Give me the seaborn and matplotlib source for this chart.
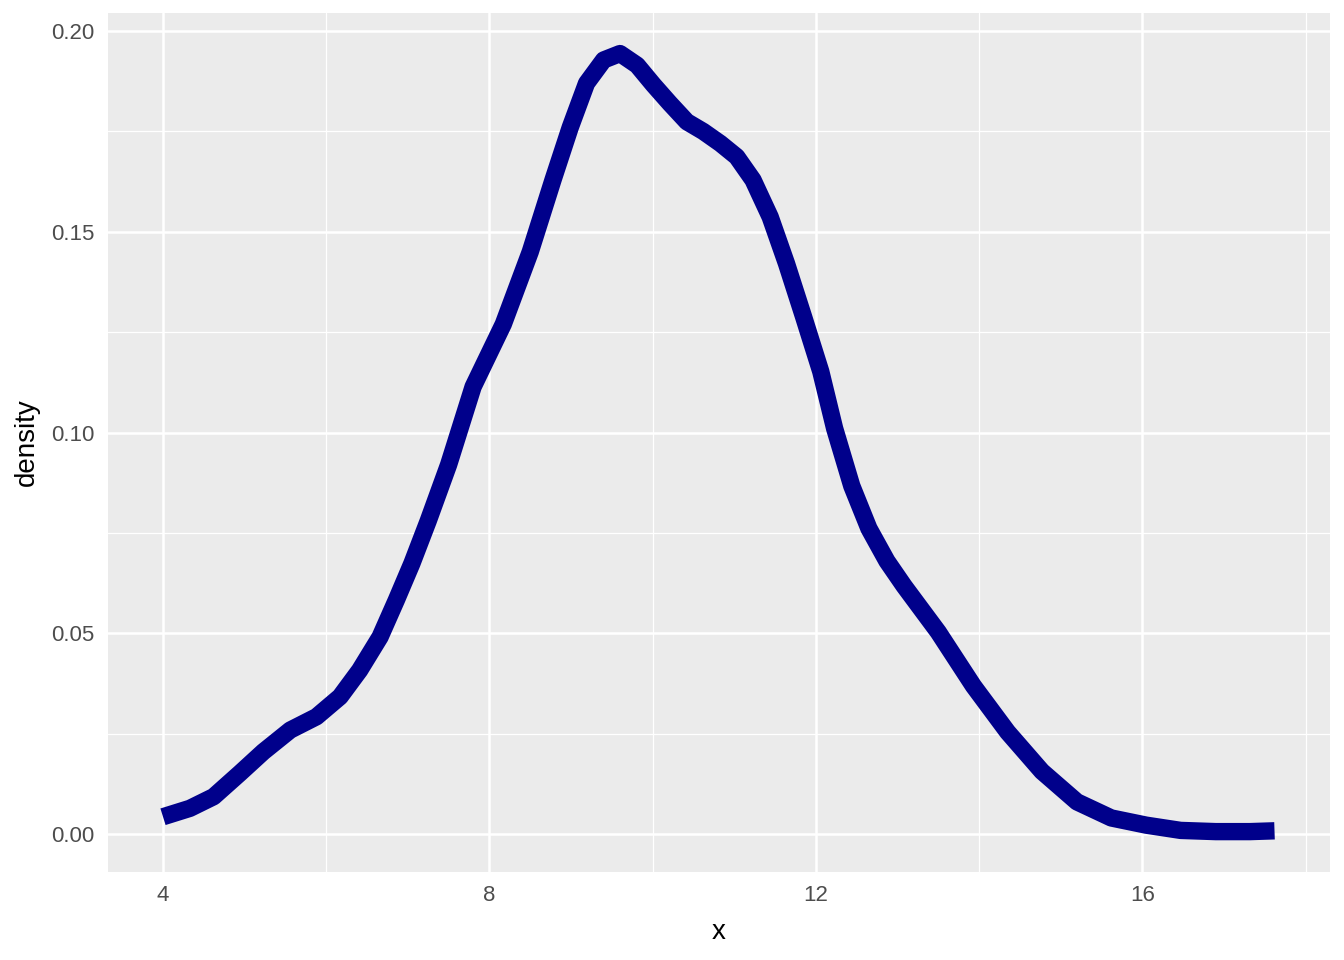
import numpy as np
import pandas as pd
import seaborn as sns
import matplotlib.pyplot as plt
import matplotlib.ticker as mticker

# density curve
x_vals = [4.0, 4.33, 4.62, 4.94, 5.23, 5.56, 5.88, 6.17, 6.41, 6.66, 6.86, 7.05,
          7.25, 7.5, 7.8, 8.17, 8.5, 8.78, 8.99, 9.19, 9.40, 9.60, 9.81, 10.01,
          10.21, 10.42, 10.62, 10.83, 11.03, 11.23, 11.44, 11.64, 11.85, 12.06,
          12.23, 12.44, 12.65, 12.87, 13.08, 13.50, 13.93, 14.35, 14.77, 15.20,
          15.62, 16.05, 16.47, 16.90, 17.32, 17.62]
density_vals = [0.0043, 0.0064, 0.0093, 0.0151, 0.0205, 0.0259, 0.0292, 0.0342,
                0.0408, 0.0491, 0.0583, 0.0674, 0.078, 0.092, 0.1114, 0.127,
                0.145, 0.163, 0.176, 0.187, 0.1928, 0.1944, 0.1915, 0.1866,
                0.182, 0.1774, 0.175, 0.172, 0.1687, 0.1629, 0.1537, 0.1421,
                0.1288, 0.1152, 0.101, 0.0867, 0.0761, 0.068, 0.0618, 0.0503,
                0.0369, 0.0254, 0.0156, 0.0080, 0.0040, 0.0022, 0.0009, 0.0006,
                0.0006, 0.0008]
x_ticks = [4, 8, 12, 16]
y_ticks = [0.00, 0.05, 0.10, 0.15, 0.20]

df = pd.DataFrame({'x': x_vals, 'density': density_vals})

sns.set_theme(style='darkgrid')
plt.rcParams['font.family'] = ['Liberation Sans', 'DejaVu Sans']

fig = plt.figure(figsize=(13.44, 9.6), dpi=100)
ax = fig.add_axes([108 / 1344, 88 / 960, 1222 / 1344, 859 / 960])
ax.set_facecolor('#EBEBEB')

sns.lineplot(data=df, x='x', y='density', ax=ax, color='#00008B',
             linewidth=12.5, solid_capstyle='butt', solid_joinstyle='round',
             sort=False)

ax.set_xlim(3.326, 18.30)
ax.set_ylim(-0.00946, 0.2045)
ax.set_xticks(x_ticks)
ax.set_yticks(y_ticks)
ax.set_yticklabels([f'{v:.2f}' for v in y_ticks])
ax.xaxis.set_minor_locator(mticker.MultipleLocator(2))
ax.yaxis.set_minor_locator(mticker.MultipleLocator(0.025))

ax.grid(which='major', color='white', linewidth=1.8)
ax.grid(which='minor', color='white', linewidth=0.9)
ax.set_axisbelow(True)
for s in ax.spines.values():
    s.set_visible(False)

ax.tick_params(axis='both', which='major', length=5.3, width=1.1, color='#333333',
               labelsize=16, labelcolor='#4D4D4D', pad=4.2)
ax.tick_params(axis='both', which='minor', length=0)

ax.set_xlabel('x', fontsize=20, color='black', labelpad=9)
ax.set_ylabel('density', fontsize=20, color='black', labelpad=8)

fig.savefig('out.png', dpi=100)
